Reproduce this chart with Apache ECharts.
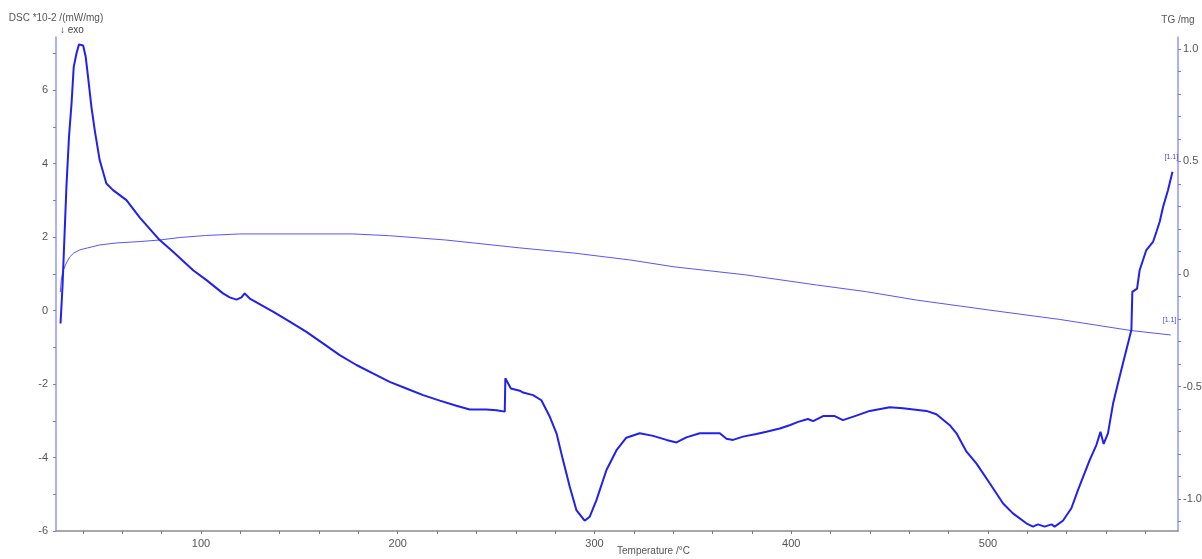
<!DOCTYPE html>
<html>
<head>
<meta charset="utf-8">
<title>DSC / TG</title>
<script src="https://cdn.jsdelivr.net/npm/echarts@6/dist/echarts.min.js"></script>
<style>
  html, body { margin: 0; padding: 0; background: #fff; }
  #chart { width: 1202px; height: 559px; }
</style>
</head>
<body>
<div id="chart"></div>
<script>
// DSC 曲线 (温度 / 值 *10-2 mW/mg)
const dscTemp = [28.6, 29.6, 30.4, 31.6, 32.9, 34.2, 35.3, 36.7, 38.0, 38.9,
  40.1, 41.4, 42.6, 44.3, 46.0, 48.5, 51.9, 55.3, 62.1, 68.9,
  79.0, 85.8, 96.0, 102.8, 111.2, 114.6, 118.0, 120.6, 122.2, 124.8,
  136.6, 145.1, 153.6, 162.0, 170.5, 179.0, 187.4, 195.9, 204.4, 212.9,
  221.4, 229.8, 236.6, 245.1, 250.2, 254.4, 254.7, 257.5, 262.0, 263.7,
  268.8, 273.0, 277.3, 280.7, 284.0, 287.4, 290.8, 295.0, 297.6, 301.0,
  306.1, 311.2, 316.2, 323.0, 329.8, 336.6, 341.7, 346.7, 353.5, 363.7,
  367.1, 370.4, 375.5, 382.3, 387.4, 394.2, 399.2, 403.5, 408.5, 411.1,
  416.2, 422.1, 426.3, 433.1, 439.9, 450.1, 456.8, 468.7, 473.8, 480.6,
  484.0, 489.1, 494.1, 500.9, 507.7, 512.7, 519.5, 522.9, 525.4, 528.8,
  532.3, 533.9, 538.1, 542.4, 545.8, 551.7, 555.1, 557.2, 558.8, 561.0,
  563.6, 566.1, 568.6, 571.2, 572.9, 573.4, 575.8, 577.1, 580.5, 583.9,
  585.6, 587.3, 589.0, 591.5, 593.8];
const dscVal = [-0.35, 0.65, 1.74, 3.37, 4.73, 5.64, 6.63, 7.00, 7.25, 7.30,
  7.22, 6.91, 6.36, 5.55, 4.91, 4.10, 3.46, 3.28, 3.01, 2.53,
  1.92, 1.60, 1.10, 0.83, 0.47, 0.36, 0.30, 0.36, 0.47, 0.33,
  -0.03, -0.30, -0.58, -0.89, -1.21, -1.48, -1.71, -1.94, -2.12, -2.30,
  -2.45, -2.59, -2.69, -2.69, -2.71, -2.75, -1.84, -2.12, -2.18, -2.23,
  -2.30, -2.44, -2.89, -3.34, -4.07, -4.79, -5.43, -5.72, -5.61, -5.16,
  -4.34, -3.80, -3.46, -3.34, -3.41, -3.52, -3.59, -3.45, -3.34, -3.34,
  -3.49, -3.52, -3.43, -3.36, -3.30, -3.21, -3.12, -3.03, -2.95, -3.01,
  -2.87, -2.87, -2.98, -2.86, -2.73, -2.63, -2.66, -2.73, -2.82, -3.12,
  -3.34, -3.84, -4.16, -4.70, -5.25, -5.52, -5.79, -5.88, -5.82, -5.88,
  -5.82, -5.88, -5.72, -5.38, -4.88, -4.07, -3.66, -3.30, -3.63, -3.34,
  -2.53, -1.98, -1.44, -0.89, -0.53, 0.51, 0.60, 1.10, 1.65, 1.87,
  2.14, 2.42, 2.82, 3.28, 3.78];

// TG 曲线 (温度 / mg)
const tgTemp = [28.5, 29.0, 29.7, 31.3, 33.3, 35.3, 38.4, 42.4, 48.5, 57.2,
  68.9, 79.0, 89.2, 102.4, 119.7, 177.1, 195.9, 224.4, 262.0, 289.5,
  318.4, 340.3, 376.9, 413.0, 438.4, 463.8, 500.4, 536.5, 572.5, 592.9];
const tgVal = [-0.080, -0.027, 0.009, 0.044, 0.076, 0.093, 0.107, 0.116, 0.129, 0.138,
  0.144, 0.151, 0.162, 0.171, 0.178, 0.178, 0.170, 0.151, 0.116, 0.093,
  0.062, 0.032, -0.004, -0.049, -0.079, -0.116, -0.160, -0.202, -0.251, -0.271];

// 刻度
const xLabels = [100, 200, 300, 400, 500];
const xTicks = [40, 60, 80, 100, 120, 140, 160, 180, 200, 220, 240, 260, 280, 300,
  320, 340, 360, 380, 400, 420, 440, 460, 480, 500, 520, 540, 560, 580];
const dscLabels = [-6, -4, -2, 0, 2, 4, 6];
const dscTicks = [-6, -5, -4, -3, -2, -1, 0, 1, 2, 3, 4, 5, 6, 7];
const tgLabels = [-1.0, -0.5, 0, 0.5, 1.0];
const tgTicks = [-1.1, -1.0, -0.9, -0.8, -0.7, -0.6, -0.5, -0.4, -0.3, -0.2, -0.1, 0,
  0.1, 0.2, 0.3, 0.4, 0.5, 0.6, 0.7, 0.8, 0.9, 1.0];

const zip = (xs, ys) => xs.map((x, i) => [x, ys[i]]);
const font = "'Liberation Sans', Arial, sans-serif";

// 曲线末端的 [1.1] 标记
const endMark = {
  show: true,
  formatter: "[1.1]",
  color: "#4444ee",
  fontSize: 7,
  fontFamily: font,
  offset: [-16, -15],
};

const chart = echarts.init(document.getElementById("chart"));
chart.setOption({
  animation: false,
  backgroundColor: "#ffffff",
  grid: { left: 56, right: 24, top: 37, bottom: 28, outerBoundsMode: "none", containLabel: false },
  xAxis: {
    type: "value",
    min: 26.3,
    max: 596.6,
    name: "Temperature /°C",
    nameLocation: "middle",
    nameGap: 15,
    nameMoveOverlap: false,
    nameTextStyle: { color: "#555", fontSize: 10, fontFamily: font, align: "left" },
    axisLine: { show: true, onZero: false, lineStyle: { color: "#8a8a8a", width: 1.5 } },
    axisTick: { show: true, length: 3, customValues: xTicks, lineStyle: { color: "#777" } },
    axisLabel: { customValues: xLabels, color: "#555", fontSize: 11, fontFamily: font, margin: 7 },
    splitLine: { show: false },
  },
  yAxis: [
    {
      type: "value",
      min: -6,
      max: 7.45,
      position: "left",
      name: "DSC *10-2 /(mW/mg)",
      nameLocation: "end",
      nameGap: 14,
      nameTextStyle: { color: "#555", fontSize: 10, fontFamily: font },
      axisLine: { show: true, onZero: false, lineStyle: { color: "#9494ff", width: 1.5 } },
      axisTick: { show: true, length: 3, customValues: dscTicks, lineStyle: { color: "#7a7acc" } },
      axisLabel: { customValues: dscLabels, color: "#555", fontSize: 11, fontFamily: font, margin: 8 },
      splitLine: { show: false },
    },
    {
      type: "value",
      min: -1.142,
      max: 1.053,
      position: "right",
      name: "TG /mg",
      nameLocation: "end",
      nameGap: 12,
      nameTextStyle: { color: "#555", fontSize: 10, fontFamily: font },
      axisLine: { show: true, onZero: false, lineStyle: { color: "#9494ff", width: 1.5 } },
      axisTick: { show: true, length: 3, customValues: tgTicks, lineStyle: { color: "#7a7acc" } },
      axisLabel: {
        customValues: tgLabels,
        color: "#555",
        fontSize: 11,
        fontFamily: font,
        margin: 5,
        formatter: (v) => (Math.abs(v) < 1e-9 ? "0" : v.toFixed(1)),
      },
      splitLine: { show: false },
    },
  ],
  graphic: [
    {
      type: "text",
      left: 60,
      top: 25,
      style: { text: "↓ exo", fill: "#444", fontSize: 10, fontFamily: font },
    },
  ],
  series: [
    {
      name: "TG",
      type: "line",
      yAxisIndex: 1,
      showSymbol: false,
      data: zip(tgTemp, tgVal),
      lineStyle: { color: "#5555ff", width: 1 },
      endLabel: endMark,
    },
    {
      name: "DSC",
      type: "line",
      yAxisIndex: 0,
      showSymbol: false,
      data: zip(dscTemp, dscVal),
      lineStyle: { color: "#2020f0", width: 2 },
      endLabel: endMark,
    },
  ],
});
</script>
</body>
</html>
